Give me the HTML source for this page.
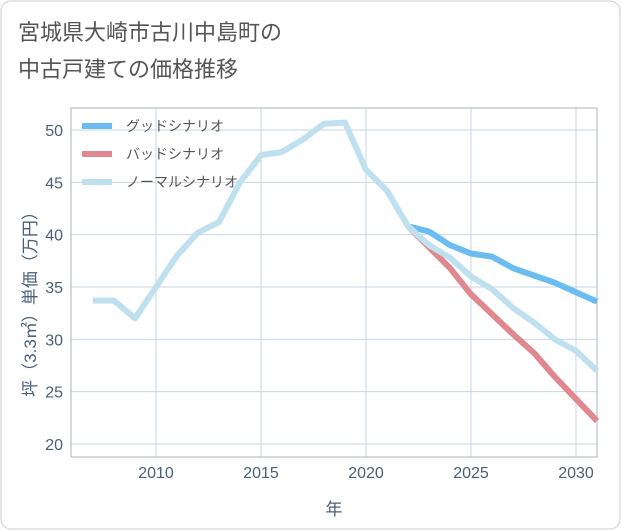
<!DOCTYPE html>
<html><head><meta charset="utf-8"><style>
body{margin:0;background:#fff;}
svg{display:block;font-family:"Liberation Sans","Noto Sans CJK JP",sans-serif;}
</style></head><body>
<svg id="c" width="621" height="530">
<rect x="1" y="1" width="619" height="528" rx="10" fill="#fff" stroke="#ccc"/>
<text x="18" y="40" font-size="22" fill="#555">宮城県大崎市古川中島町の</text>
<text x="18" y="77" font-size="22" fill="#555">中古戸建ての価格推移</text>
<g id="grid"></g>
<rect x="71" y="108" width="526" height="349" fill="none" stroke="#aab4c0"/>
<g id="series"></g>
<g id="ticks"></g>
<text x="334" y="515" font-size="17" fill="#4a6078" text-anchor="middle">年</text>
<text transform="translate(36,300) rotate(-90)" font-size="17" fill="#4a6078" text-anchor="middle">坪（3.3㎡）単価（万円）</text>
<g id="legend"></g>
</svg>
<script>
const years=[2007,2008,2009,2010,2011,2012,2013,2014,2015,2016,2017,2018,2019,2020,2021,2022,2023,2024,2025,2026,2027,2028,2029,2030,2031];
const normal=[33.7,33.7,32.0,35.0,38.0,40.2,41.2,45.0,47.6,47.9,49.1,50.6,50.7,46.2,44.2,40.8,39.0,37.8,36.0,34.8,33.0,31.6,30.0,28.9,27.0];
const goodYears=[2022,2023,2024,2025,2026,2027,2028,2029,2030,2031];
const good=[40.8,40.3,39.0,38.2,37.9,36.8,36.1,35.4,34.5,33.6];
const bad=[40.8,38.8,36.8,34.3,32.4,30.5,28.7,26.4,24.3,22.2];
const xTicks=[2010,2015,2020,2025,2030];
const yTicks=[20,25,30,35,40,45,50];
const NS='http://www.w3.org/2000/svg';
const X=y=>156+(y-2010)*21;
const Y=v=>444-(v-20)*10.467;
function mk(t,a,p){const e=document.createElementNS(NS,t);for(const k in a)e.setAttribute(k,a[k]);p.appendChild(e);return e;}
const grid=document.getElementById('grid'),ticks=document.getElementById('ticks');
xTicks.forEach(t=>{
 const l=mk('line',{x1:X(t),x2:X(t),y1:108,y2:457,stroke:'#c8d6e4','stroke-width':1},grid);
 
 
 const tx=mk('text',{x:X(t),y:478,'font-size':16,fill:'#4a6078','text-anchor':'middle'},ticks);
 tx.textContent=t;
 
 
});
yTicks.forEach(t=>{
 const l=mk('line',{x1:71,x2:597,y1:Y(t),y2:Y(t),stroke:'#c8d6e4','stroke-width':1},grid);
 
 
 const tx=mk('text',{x:63,y:Y(t)+6,'font-size':16,fill:'#4a6078','text-anchor':'end'},ticks);
 tx.textContent=t;
 
 
});
const sg=document.getElementById('series');
function line(xs,vs,color,name){
 const d=xs.map((x,i)=>(i?'L':'M')+X(x)+','+Y(vs[i])).join(' ');
 const p=mk('path',{d:d,fill:'none',stroke:color,'stroke-width':6,'stroke-linejoin':'round'},sg);
 
 
}
line(goodYears,good,'#6bbcf0','good-scenario-line');
line(goodYears,bad,'#e0888f','bad-scenario-line');
line(years,normal,'#bfe0ee','normal-scenario-line');
const lg=document.getElementById('legend');
[['グッドシナリオ','#6bbcf0','legend-good'],['バッドシナリオ','#e0888f','legend-bad'],['ノーマルシナリオ','#bfe0ee','legend-normal']].forEach((e,i)=>{
 const y=126+i*28;
 const g=mk('g',{},lg);
 
 
 mk('rect',{x:82,y:y-3,width:30,height:6,fill:e[1]},g);
 const t=mk('text',{x:126,y:y+5,'font-size':14,fill:'#555'},g);
 t.textContent=e[0];
});
</script>
</body></html>
